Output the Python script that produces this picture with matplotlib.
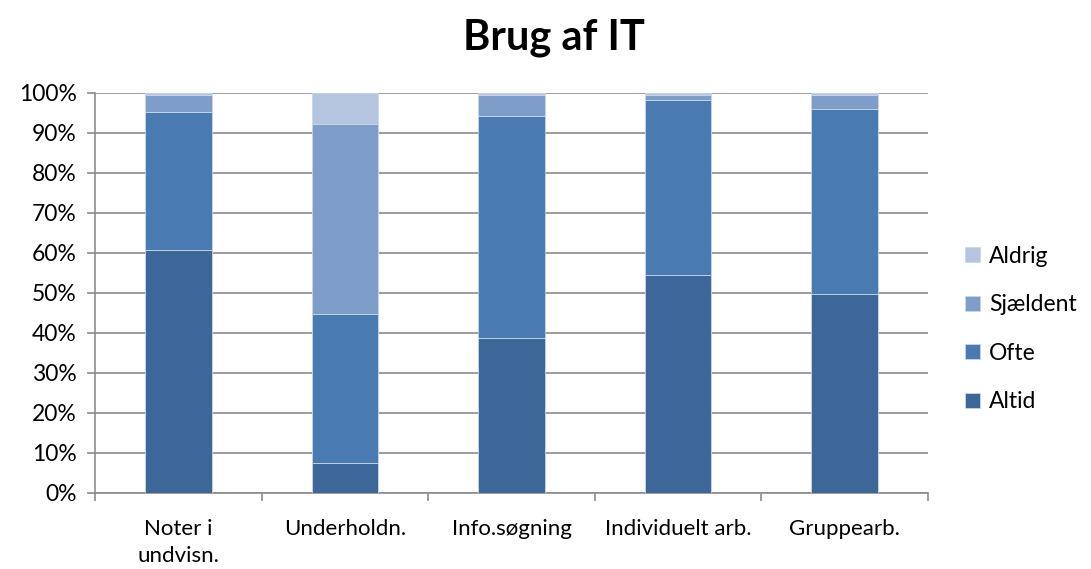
import matplotlib.pyplot as plt
import numpy as np

plt.rcParams['font.family'] = ['Lato', 'DejaVu Sans']

categories = ['Noter i\nundvisn.', 'Underholdn.', 'Info.søgning', 'Individuelt arb.', 'Gruppearb.']
altid = [60.7, 7.4, 38.8, 54.5, 49.8]
ofte = [34.6, 37.3, 55.5, 43.8, 46.2]
sjaeldent = [4.2, 47.5, 5.2, 1.3, 3.5]
aldrig = [0.5, 7.8, 0.5, 0.4, 0.5]

series = [('Altid', altid, '#3D6699'),
          ('Ofte', ofte, '#4A7AB2'),
          ('Sjældent', sjaeldent, '#7F9DC9'),
          ('Aldrig', aldrig, '#B5C4DF')]

fig = plt.figure(figsize=(10.91, 5.69), dpi=100)
ax = fig.add_axes([0.087, 0.1336, 0.7636, 0.703])

x = np.arange(len(categories))
bottom = np.zeros(len(categories))
handles = []
for name, vals, col in series:
    b = ax.bar(x, vals, 0.4, bottom=bottom, color=col, edgecolor='#C9D6EA',
               linewidth=0.6, label=name, zorder=3)
    handles.append(b)
    bottom += np.array(vals)

ax.set_xlim(-0.5, len(categories) - 0.5)
ax.set_ylim(0, 100)
ax.set_yticks(np.arange(0, 101, 10))
ax.set_yticklabels([f'{v}%' for v in range(0, 101, 10)], fontsize=16.5)
ax.yaxis.grid(True, color='#8C8C8C', linewidth=1.2, zorder=0)
ax.set_axisbelow(True)

ax.set_xticks(x)
ax.set_xticklabels(categories, fontsize=16, linespacing=1.4)
ax.tick_params(axis='x', length=0, pad=19)
ax.set_xticks(np.arange(-0.5, len(categories)), minor=True)
ax.tick_params(axis='x', which='minor', length=6, color='#8C8C8C', width=1.2)
ax.tick_params(axis='y', length=6, color='#8C8C8C', width=1.2, pad=7)

for s in ['top', 'right']:
    ax.spines[s].set_visible(False)
for s in ['left', 'bottom']:
    ax.spines[s].set_color('#8C8C8C')
    ax.spines[s].set_linewidth(1.2)

fig.text(0.508, 0.933, 'Brug af IT', fontsize=30, fontweight='bold',
         ha='center', va='center')

ax.legend(handles[::-1], [h.get_label() for h in handles[::-1]],
          loc='center left', bbox_to_anchor=(1.02, 0.41), frameon=False,
          fontsize=16.5, handlelength=0.65, handleheight=0.65,
          labelspacing=1.2, handletextpad=0.4)

fig.savefig('out.png', dpi=100)
